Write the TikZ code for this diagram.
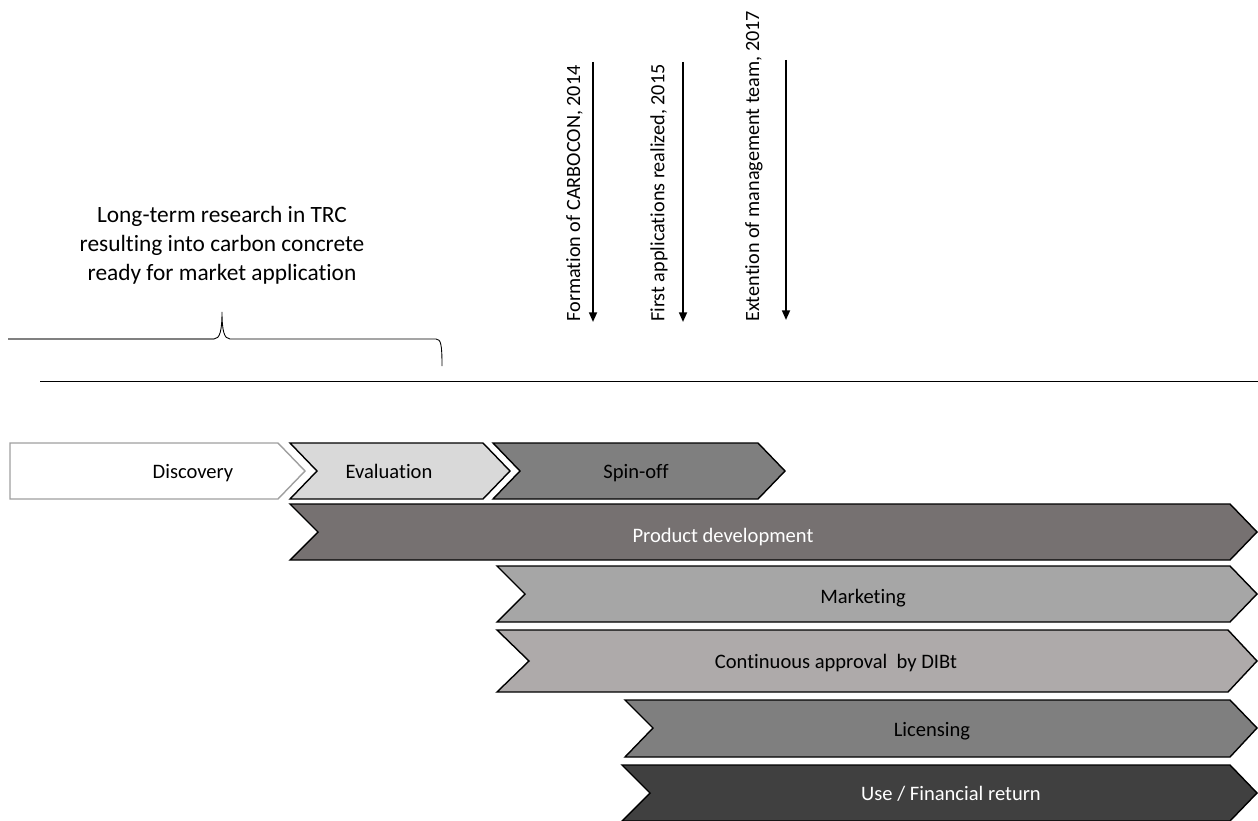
\documentclass[tikz,border=0pt]{standalone}
\usepackage{fontspec}
\setmainfont{Carlito}[Ligatures={NoCommon}]
\usepackage{tikz}
\usetikzlibrary{arrows.meta,positioning}

\definecolor{evalgray}{HTML}{D9D9D9}
\definecolor{spingray}{HTML}{7F7F7F}
\definecolor{prodgray}{HTML}{767171}
\definecolor{markgray}{HTML}{A6A6A6}
\definecolor{apprgray}{HTML}{AEAAAA}
\definecolor{usegray}{HTML}{404040}

\begin{document}
\begin{tikzpicture}[x=0.02cm,y=-0.02cm,
  phase/.style={draw=black, line width=0.8pt, line join=miter},
  phaselabel/.style={font=\fontsize{11.7}{14}\selectfont, inner sep=0pt, anchor=base},
  milestone/.style={line width=1.1pt, -{Triangle[length=5.5pt,width=4.5pt]}},
  event/.style={rotate=90, anchor=south west, inner sep=0pt, font=\fontsize{11.5}{14}\selectfont}]
\useasboundingbox (0,0) rectangle (1258,821);
% research text and brace
\node[align=center, font=\fontsize{13.3}{16.5}\selectfont] (research) at (222,245)
  {Long-term research in TRC\\resulting into carbon concrete\\ready for market application};
\draw[gray, line width=0.6pt] (8,339) -- (214,339);
\draw[black, line width=0.5pt] (214,339) .. controls (220,339) and (222,330) .. (222,312)
  .. controls (222,330) and (224,339) .. (230,339) -- (436,339)
  .. controls (441,339) and (442,345) .. (442,366);
% time line
\coordinate (axisstart) at (40,381);
\coordinate (axisend) at (1258,381);
\draw[line width=0.5pt] (axisstart) -- (axisend);
% milestones
\coordinate (m1top) at (593,62);  \coordinate (m1bot) at (593,322);
\coordinate (m2top) at (683,62);  \coordinate (m2bot) at (683,322);
\coordinate (m3top) at (786,60);  \coordinate (m3bot) at (786,320);
\draw[milestone] (m1top) -- (m1bot);
\draw[milestone] (m2top) -- (m2bot);
\draw[milestone] (m3top) -- (m3bot);
\node[event] (formation) at (583,322) {Formation of CARBOCON, 2014};
\node[event] (firstapp) at (668,322) {First applications realized, 2015};
\node[event] (extention) at (763,322) {Extention of management team, 2017};
% first row: discovery, evaluation, spin-off
\draw[phase, draw=gray!75, fill=white] (10,443) -- (278,443) -- (305,471) -- (278,499) -- (10,499) -- cycle;
\draw[phase, fill=evalgray] (290,443) -- (483,443) -- (510,471) -- (483,499) -- (290,499) -- (317,471) -- cycle;
\draw[phase, fill=spingray] (493,443) -- (758,443) -- (785,471) -- (758,499) -- (493,499) -- (520,471) -- cycle;
\node[phaselabel] (discovery) at (193,478) {Discovery};
\node[phaselabel] (evaluation) at (389,478) {Evaluation};
\node[phaselabel] (spinoff) at (636,478) {Spin-off};
% long running phases
\draw[phase, fill=prodgray] (290,504) -- (1230,504) -- (1257,532) -- (1230,560) -- (290,560) -- (318,532) -- cycle;
\draw[phase, fill=markgray] (497,566) -- (1230,566) -- (1257,594) -- (1230,622) -- (497,622) -- (525,594) -- cycle;
\draw[phase, fill=apprgray] (497,630) -- (1228,630) -- (1257,661) -- (1228,692) -- (497,692) -- (529,661) -- cycle;
\draw[phase, fill=spingray] (625,700) -- (1230,700) -- (1257,728) -- (1230,757) -- (625,757) -- (653,728) -- cycle;
\draw[phase, fill=usegray] (622,765) -- (1230,765) -- (1257,793) -- (1230,821) -- (622,821) -- (650,793) -- cycle;
\node[phaselabel, text=white] (product) at (723,542) {Product development};
\node[phaselabel] (marketing) at (863,603) {Marketing};
\node[phaselabel] (approval) at (836,668) {Continuous approval~ by DIBt};
\node[phaselabel] (licensing) at (932,736) {Licensing};
\node[phaselabel, text=white] (return) at (951,800) {Use / Financial return};
\end{tikzpicture}
\end{document}
